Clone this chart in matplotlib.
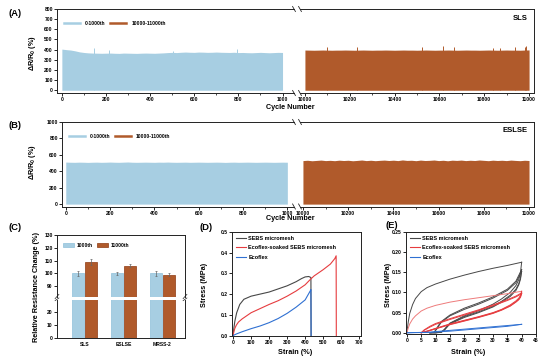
import matplotlib
matplotlib.use('Agg')
import matplotlib.pyplot as plt
import numpy as np
from matplotlib.patches import Patch
from matplotlib.lines import Line2D
from matplotlib.ticker import FormatStrFormatter, MultipleLocator

plt.rcParams['font.family'] = ['Liberation Sans', 'DejaVu Sans']
plt.rcParams['font.weight'] = 'bold'
plt.rcParams['axes.labelweight'] = 'bold'
plt.rcParams['mathtext.fontset'] = 'custom'
plt.rcParams['mathtext.rm'] = 'Liberation Sans:bold'
plt.rcParams['mathtext.bf'] = 'Liberation Sans:bold'
plt.rcParams['mathtext.it'] = 'Liberation Sans:bold'
plt.rcParams['axes.linewidth'] = 0.7

# ---------------- data ----------------
cycle_left_x = list(range(0, 1001, 20))
cycle_right_x = list(range(10000, 11001, 20))

a_left_env = [405, 400, 396, 388, 378, 372, 368, 366, 365, 364, 365, 366, 364, 363, 366,
              365, 364, 363, 365, 366, 365, 364, 366, 368, 371, 373, 371, 374, 376, 374,
              373, 376, 375, 373, 374, 376, 374, 373, 372, 374, 371, 372, 370, 369, 371,
              373, 371, 369, 371, 373, 372]
a_right_env = [396, 395, 394, 395, 396, 395, 394, 395, 395, 396, 395, 394, 395, 396, 395,
               394, 395, 395, 396, 395, 394, 395, 396, 395, 395, 394, 395, 396, 395, 394,
               395, 395, 396, 395, 394, 395, 396, 395, 395, 394, 395, 396, 395, 394, 395,
               396, 395, 395, 394, 396, 397]
a_left_spike_x = [146, 213, 795, 505]
a_left_spike_y = [412, 398, 403, 390]
a_right_spike_x = [10098, 10231, 10522, 10615, 10663, 10838, 10870, 10937, 10981, 10988]
a_right_spike_y = [430, 430, 425, 436, 425, 418, 420, 428, 425, 433]

b_left_env = [512, 510, 509, 511, 510, 508, 510, 511, 509, 510, 512, 510, 509, 511, 513,
              510, 509, 510, 511, 510, 509, 511, 510, 512, 510, 509, 510, 511, 509, 510,
              511, 510, 509, 510, 511, 510, 508, 510, 511, 509, 510, 511, 510, 509, 510,
              511, 510, 509, 510, 511, 510]
b_right_env = [530, 534, 528, 532, 536, 530, 533, 529, 535, 531, 534, 528, 532, 537, 530,
               534, 529, 533, 536, 531, 535, 530, 538, 532, 534, 529, 536, 531, 533, 537,
               530, 534, 528, 535, 532, 536, 530, 534, 531, 537, 533, 529, 535, 531, 534,
               530, 536, 532, 529, 534, 531]

c_samples = ['SLS', 'ESLSE', 'MRSS-2']
c_1000 = [100, 100, 100]
c_1000_err = [2.0, 1.2, 1.8]
c_11000 = [109, 106, 99]
c_11000_err = [2.2, 1.2, 1.0]

d_sebs_strain = [0, 5, 10, 20, 37, 60, 100, 150, 200, 250, 300, 350, 380, 400, 420, 432, 433]
d_sebs_stress = [0, 0.04, 0.07, 0.11, 0.15, 0.175, 0.19, 0.20, 0.21, 0.225, 0.24, 0.26,
                 0.275, 0.283, 0.285, 0.28, 0.0]
d_soak_strain = [0, 5, 10, 18, 30, 50, 100, 150, 200, 250, 300, 350, 400, 430, 450, 500,
                 540, 565, 572, 573]
d_soak_stress = [0, 0.02, 0.035, 0.05, 0.065, 0.08, 0.11, 0.13, 0.15, 0.168, 0.19, 0.215,
                 0.245, 0.272, 0.288, 0.318, 0.345, 0.372, 0.385, 0.0]
d_eco_strain = [0, 20, 50, 100, 150, 200, 250, 300, 350, 400, 430, 432, 433]
d_eco_stress = [0, 0.008, 0.018, 0.033, 0.046, 0.062, 0.082, 0.107, 0.137, 0.172, 0.218,
                0.222, 0.0]

e_c1_strain = [0, 0.5, 1, 2, 3, 5, 7, 10, 15, 20, 25, 30, 35, 40]
e_sebs_c1_load = [0, 0.028, 0.048, 0.07, 0.085, 0.102, 0.112, 0.121, 0.133, 0.143, 0.152,
                  0.160, 0.167, 0.175]
e_sebs_unload_strain = [40, 39.6, 39, 38, 36, 33, 30, 25, 20, 15, 13, 12, 10, 8]
e_sebs_unload_c1 = [0.175, 0.150, 0.132, 0.117, 0.100, 0.084, 0.071, 0.055, 0.042, 0.024,
                    0.008, 0.002, 0.0, 0.0]
e_sebs_unload_c2 = [0.157, 0.137, 0.122, 0.108, 0.093, 0.078, 0.066, 0.052, 0.040, 0.023,
                    0.007, 0.002, 0.0, 0.0]
e_sebs_unload_c3 = [0.152, 0.133, 0.119, 0.105, 0.090, 0.076, 0.064, 0.050, 0.038, 0.022,
                    0.006, 0.001, 0.0, 0.0]
e_sebs_load_strain = [8, 9.5, 10.5, 11, 12, 15, 20, 25, 30, 35, 38, 40]
e_sebs_load_c2 = [0, 0.001, 0.012, 0.018, 0.028, 0.044, 0.061, 0.074, 0.089, 0.108, 0.128, 0.157]
e_sebs_load_c3 = [0, 0.001, 0.010, 0.016, 0.026, 0.042, 0.058, 0.071, 0.086, 0.105, 0.124, 0.152]

e_soak_c1_load = [0, 0.012, 0.022, 0.034, 0.042, 0.054, 0.061, 0.068, 0.076, 0.082, 0.087,
                  0.092, 0.097, 0.103]
e_soak_unload_strain = [40, 39.6, 39, 38, 36, 33, 30, 25, 20, 15, 10, 7, 5]
e_soak_unload_c1 = [0.103, 0.093, 0.086, 0.079, 0.069, 0.058, 0.050, 0.040, 0.031, 0.022,
                    0.011, 0.004, 0.0]
e_soak_unload_c2 = [0.099, 0.090, 0.083, 0.077, 0.067, 0.057, 0.049, 0.039, 0.030, 0.021,
                    0.010, 0.004, 0.0]
e_soak_unload_c3 = [0.097, 0.088, 0.082, 0.076, 0.066, 0.056, 0.048, 0.038, 0.029, 0.020,
                    0.010, 0.003, 0.0]
e_soak_load_strain = [5, 6, 8, 10, 15, 20, 25, 30, 35, 38, 40]
e_soak_load_c2 = [0, 0.007, 0.016, 0.023, 0.035, 0.046, 0.057, 0.069, 0.082, 0.091, 0.099]
e_soak_load_c3 = [0, 0.006, 0.014, 0.021, 0.033, 0.044, 0.055, 0.067, 0.080, 0.089, 0.097]

e_eco_strain = [0, 2, 5, 8, 10, 15, 20, 25, 30, 35, 40]
e_eco_load = [0, 0.0005, 0.001, 0.0015, 0.003, 0.006, 0.009, 0.012, 0.015, 0.018, 0.021]
e_eco_unload = [0, 0.0003, 0.0006, 0.001, 0.002, 0.004, 0.007, 0.010, 0.013, 0.016, 0.021]

# ---------------- style ----------------
BLUE = '#a7cee2'
BLUE_EDGE = '#8fc0da'
BROWN = '#b05a2b'
BROWN_EDGE = '#8e3a12'
GRAY = '#474747'
RED = '#e63c3f'
RED_LIGHT = '#ee7b7b'
LBLUE = '#2f70d2'
TICK_FS = 3.6
LAB_FS = 5.2

W, H = 550, 361
fig = plt.figure(figsize=(W / 100, H / 100), dpi=100)


def rect(l, t, r, b):
    return [l / W, 1 - b / H, (r - l) / W, (b - t) / H]


def ftext(x, y, s, **kw):
    fig.text(x / W, 1 - y / H, s, **kw)


def style_ticks(ax):
    ax.tick_params(direction='out', length=2, width=0.6, pad=1, labelsize=TICK_FS)
    ax.tick_params(which='minor', direction='out', length=1.2, width=0.5)
    for s in ax.spines.values():
        s.set_color('#222222')


def cycle_panel(top, bottom, lx0, ylim, ystep, xlimL, xlimR, lenv, renv,
                lsx, lsy, rsx, rsy, tag, tag_y, leg_y):
    axL = fig.add_axes(rect(lx0, top, 294, bottom))
    axR = fig.add_axes(rect(300, top, 534, bottom))
    axL.fill_between(cycle_left_x, 0, lenv, color=BLUE, lw=0)
    axR.fill_between(cycle_right_x, 0, renv, color=BROWN, lw=0)
    if lsx:
        axL.vlines(lsx, 0, lsy, color=BLUE, lw=0.7)
    if rsx:
        axR.vlines(rsx, 0, rsy, color=BROWN, lw=0.7)
    for ax in (axL, axR):
        ax.set_ylim(*ylim)
        style_ticks(ax)
    axL.set_xlim(*xlimL)
    axR.set_xlim(*xlimR)
    axL.set_xticks(range(0, 1001, 200))
    axL.xaxis.set_minor_locator(MultipleLocator(100))
    axR.set_xticks(range(10000, 11001, 200))
    axR.xaxis.set_minor_locator(MultipleLocator(100))
    axL.set_yticks(np.arange(0, ylim[1] + 1, ystep))
    axL.spines['right'].set_visible(False)
    axR.spines['left'].set_visible(False)
    axR.tick_params(axis='y', left=False, labelleft=False)
    # break marks
    d = 0.006
    kw = dict(color='#222222', lw=0.6, clip_on=False)
    for yy in (0, 1):
        axL.plot([1 - d, 1 + d], [yy + 0.03, yy - 0.03], transform=axL.transAxes, **kw)
        axR.plot([-d, d], [yy + 0.03, yy - 0.03], transform=axR.transAxes, **kw)
    handles = [Line2D([0], [0], color=BLUE, lw=1.8), Line2D([0], [0], color=BROWN, lw=1.8)]
    axL.legend(handles, ['0-1000th', '10000-11000th'], loc='center left',
               bbox_to_anchor=(0.02, leg_y), ncol=2, frameon=False, fontsize=TICK_FS,
               handlelength=3.2, handletextpad=1.1, columnspacing=0.8, borderaxespad=0)
    ftext(528, tag_y, tag, ha='right', va='center', fontsize=5.5, fontweight='bold')
    return axL, axR


cycle_panel(9, 93, 57, (-27, 800), 100, (-22, 1052), (9978, 11022),
            a_left_env, a_right_env, a_left_spike_x, a_left_spike_y,
            a_right_spike_x, a_right_spike_y, 'SLS', 19, 0.83)
cycle_panel(122, 206.5, 62, (-29, 1000), 200, (-17, 1030), (9987, 11022),
            b_left_env, b_right_env, None, None, None, None, 'ESLSE', 130.5, 0.83)

ylab = r'$\Delta$R/R$_0$ (%)'
ftext(33, 53, ylab, rotation=90, ha='center', va='center', fontsize=LAB_FS)
ftext(33, 162, ylab, rotation=90, ha='center', va='center', fontsize=LAB_FS)
ftext(290, 107, 'Cycle Number', ha='center', va='center', fontsize=LAB_FS)
ftext(290, 218, 'Cycle Number', ha='center', va='center', fontsize=LAB_FS)

# ---------------- C ----------------
axCu = fig.add_axes(rect(57, 235, 185, 296.5))
axCl = fig.add_axes(rect(57, 299.5, 185, 338.3))
xpos = np.arange(len(c_samples))
for ax in (axCu, axCl):
    ax.bar(xpos - 0.165, c_1000, 0.3, yerr=c_1000_err, color=BLUE, edgecolor=BLUE_EDGE,
           lw=0.5, error_kw=dict(ecolor='#666666', elinewidth=0.5, capsize=1.0, capthick=0.5))
    ax.bar(xpos + 0.165, c_11000, 0.3, yerr=c_11000_err, color=BROWN, edgecolor=BROWN_EDGE,
           lw=0.5, error_kw=dict(ecolor='#666666', elinewidth=0.5, capsize=1.0, capthick=0.5))
    ax.set_xlim(-0.7, 2.58)
    style_ticks(ax)
axCu.set_ylim(82, 130)
axCu.set_yticks([90, 100, 110, 120, 130])
axCl.set_ylim(0, 29)
axCl.set_yticks([0, 10, 20])
axCu.spines['bottom'].set_visible(False)
axCl.spines['top'].set_visible(False)
axCu.tick_params(axis='x', bottom=False, labelbottom=False)
axCl.set_xticks(xpos)
axCl.set_xticklabels(c_samples)
axCl.tick_params(axis='x', length=0, pad=3)
kw = dict(color='#222222', lw=0.5, clip_on=False)
for xx in (0, 1):
    axCu.plot([xx - 0.015, xx + 0.015], [-0.035, 0.035], transform=axCu.transAxes, **kw)
    axCl.plot([xx - 0.015, xx + 0.015], [0.97, 1.04], transform=axCl.transAxes, **kw)
axCu.legend([Patch(facecolor=BLUE, edgecolor=BLUE_EDGE, lw=0.5),
             Patch(facecolor=BROWN, edgecolor=BROWN_EDGE, lw=0.5)],
            ['1000th', '11000th'], loc='center left', bbox_to_anchor=(0.03, 0.83), ncol=2,
            frameon=False, fontsize=TICK_FS, handlelength=2.3, handleheight=0.8,
            handletextpad=0.4, columnspacing=0.9, borderaxespad=0)
ftext(37, 287, 'Relative Resistance Change (%)', rotation=90, ha='center', va='center',
      fontsize=LAB_FS)

# ---------------- D ----------------
axD = fig.add_axes(rect(232, 232, 361, 335.5))
axD.plot(d_sebs_strain, d_sebs_stress, color=GRAY, lw=0.8, label='SEBS micromesh')
axD.plot(d_soak_strain, d_soak_stress, color=RED, lw=0.8,
         label='Ecoflex-soaked SEBS micromesh')
axD.plot(d_eco_strain, d_eco_stress, color=LBLUE, lw=0.8, label='Ecoflex')
axD.set_xlim(-6, 710)
axD.set_ylim(0, 0.5)
axD.set_xticks(range(0, 701, 100))
axD.set_yticks(np.arange(0, 0.51, 0.1))
axD.yaxis.set_major_formatter(FormatStrFormatter('%.1f'))
style_ticks(axD)
axD.legend(loc='upper left', frameon=False, fontsize=4.0, handlelength=1.8,
           handletextpad=0.5, labelspacing=0.85, borderaxespad=0.25)
ftext(295, 352, 'Strain (%)', ha='center', va='center', fontsize=LAB_FS)
ftext(205, 285, 'Stress (MPa)', rotation=90, ha='center', va='center', fontsize=LAB_FS)

# ---------------- E ----------------
axE = fig.add_axes(rect(406, 232, 536, 334))
axE.plot(e_c1_strain, e_sebs_c1_load, color=GRAY, lw=0.7, label='SEBS micromesh')
axE.plot(e_sebs_unload_strain, e_sebs_unload_c1, color=GRAY, lw=0.7)
axE.plot(e_sebs_load_strain, e_sebs_load_c2, color=GRAY, lw=0.7)
axE.plot(e_sebs_unload_strain, e_sebs_unload_c2, color=GRAY, lw=0.7)
axE.plot(e_sebs_load_strain, e_sebs_load_c3, color=GRAY, lw=0.7)
axE.plot(e_sebs_unload_strain, e_sebs_unload_c3, color=GRAY, lw=0.7)
axE.plot(e_c1_strain, e_soak_c1_load, color=RED_LIGHT, lw=0.7)
axE.plot(e_soak_unload_strain, e_soak_unload_c1, color=RED, lw=0.7)
axE.plot(e_soak_load_strain, e_soak_load_c2, color=RED, lw=0.7)
axE.plot(e_soak_unload_strain, e_soak_unload_c2, color=RED, lw=0.7)
axE.plot(e_soak_load_strain, e_soak_load_c3, color=RED, lw=0.7)
axE.plot(e_soak_unload_strain, e_soak_unload_c3, color=RED, lw=0.7)
axE.plot(e_eco_strain, e_eco_load, color=LBLUE, lw=0.7)
axE.plot(e_eco_strain, e_eco_unload, color=LBLUE, lw=0.7)
axE.set_xlim(-0.3, 45)
axE.set_ylim(-0.003, 0.25)
axE.set_xticks(range(0, 46, 5))
axE.set_yticks(np.arange(0, 0.251, 0.05))
axE.yaxis.set_major_formatter(FormatStrFormatter('%.2f'))
style_ticks(axE)
axE.legend([Line2D([0], [0], color=GRAY, lw=0.8), Line2D([0], [0], color=RED, lw=0.8),
            Line2D([0], [0], color=LBLUE, lw=0.8)],
           ['SEBS micromesh', 'Ecoflex-soaked SEBS micromesh', 'Ecoflex'],
           loc='upper left', frameon=False, fontsize=4.0, handlelength=1.8,
           handletextpad=0.5, labelspacing=0.85, borderaxespad=0.25)
ftext(468, 352, 'Strain (%)', ha='center', va='center', fontsize=LAB_FS)
ftext(388, 285, 'Stress (MPa)', rotation=90, ha='center', va='center', fontsize=LAB_FS)

# ---------------- panel labels ----------------
for (px, py, s) in [(15, 13, '(A)'), (15, 125, '(B)'), (15, 228, '(C)'),
                    (206, 227, '(D)'), (392, 225, '(E)')]:
    ftext(px, py, s, ha='center', va='center', fontsize=6.8, fontweight='bold')

fig.savefig('out.png', dpi=100)
